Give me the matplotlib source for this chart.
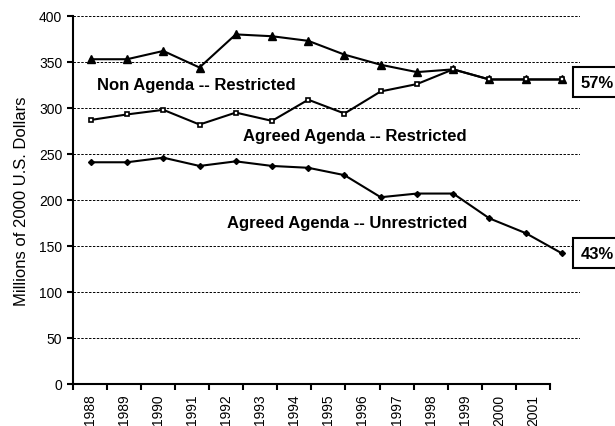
import matplotlib.pyplot as plt
import numpy as np

plt.rcParams['font.family'] = ['Liberation Sans', 'DejaVu Sans']

years = ['1988', '1989', '1990', '1991', '1992', '1993', '1994',
         '1995', '1996', '1997', '1998', '1999', '2000', '2001']
non_agenda_restricted = [353, 353, 362, 344, 380, 378, 373, 358, 347, 339, 342, 331, 331, 331]
agreed_restricted = [287, 293, 298, 282, 295, 286, 309, 294, 318, 326, 342, 331, 331, 331]
agreed_unrestricted = [241, 241, 246, 237, 242, 237, 235, 227, 203, 207, 207, 180, 164, 142]
shares = ['57%', '43%']

fig = plt.figure(figsize=(6.15, 4.27), dpi=100)

# axis frame with ticks (narrower than the plotted lines, like the original)
ax = fig.add_axes([0.1182, 0.0984, 0.7761, 0.8618])
ax.set_xlim(0, len(years))
ax.set_ylim(0, 400)
ax.set_yticks(np.arange(0, 401, 50))
ax.set_xticks(np.arange(0, len(years) + 1))
ax.set_xticklabels([])
ax.set_xticks(np.arange(len(years)) + 0.5, minor=True)
ax.set_xticklabels(years, minor=True, rotation=90, fontsize=10)
ax.tick_params(axis='x', which='major', length=4, width=1.5, direction='out')
ax.tick_params(axis='x', which='minor', length=0, pad=7)
ax.tick_params(axis='y', length=4, width=1.5, labelsize=10)
ax.spines['top'].set_visible(False)
ax.spines['right'].set_visible(False)
ax.spines['left'].set_linewidth(1.5)
ax.spines['bottom'].set_linewidth(1.5)
ax.set_ylabel('Millions of 2000 U.S. Dollars', fontsize=12, labelpad=7)

# lines and grid
lx = fig.add_axes([0.1182, 0.0984, 0.8249, 0.8618])
lx.patch.set_alpha(0)
lx.set_xlim(-0.5, len(years) - 0.5)
lx.set_ylim(0, 400)
lx.set_yticks(np.arange(50, 401, 50))
lx.set_xticks([])
lx.tick_params(axis='y', length=0, labelleft=False)
for s in lx.spines.values():
    s.set_visible(False)
lx.yaxis.grid(True, color='black', linestyle=(0, (2.5, 1.5)), linewidth=0.7)

x = np.arange(len(years))
lx.plot(x, non_agenda_restricted, color='black', lw=1.5, marker='^', ms=5.5, clip_on=False)
lx.plot(x, agreed_restricted, color='black', lw=1.5, marker='s', ms=3.4,
        mfc='white', mew=1.2, clip_on=False)
lx.plot(x, agreed_unrestricted, color='black', lw=1.5, marker='D', ms=3, clip_on=False)

lx.text(0.18, 326, 'Non Agenda -- Restricted', fontsize=12, fontweight='bold', va='center')
lx.text(4.2, 270, 'Agreed Agenda -- Restricted', fontsize=12, fontweight='bold', va='center')
lx.text(3.75, 176, 'Agreed Agenda -- Unrestricted', fontsize=12, fontweight='bold', va='center')

last = [non_agenda_restricted[-1], agreed_unrestricted[-1]]
offs = [-3, 0]
for lab, v, dy in zip(shares, last, offs):
    lx.annotate(lab, xy=(x[-1], v), xytext=(19, dy), textcoords='offset pixels',
                fontsize=12, fontweight='bold', va='center', ha='left',
                bbox=dict(boxstyle='square,pad=0.45', fc='white', ec='black', lw=1.5),
                annotation_clip=False)

fig.savefig('out.png', dpi=100)
